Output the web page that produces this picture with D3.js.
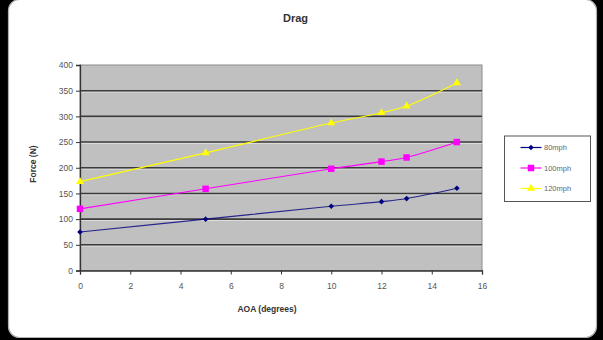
<!DOCTYPE html>
<html><head><meta charset="utf-8">
<script src="https://cdn.jsdelivr.net/npm/d3@7"></script>
<style>
html,body{margin:0;padding:0;background:#000;}
svg{display:block;}
text{font-family:Arial,"Liberation Sans",sans-serif;}
</style></head>
<body>
<svg id="c" width="603" height="340"></svg>
<script>
const aoa = [0, 5, 10, 12, 13, 15];
const s80 = [75, 100, 125, 134, 140, 160];
const s100 = [120, 159, 198, 212, 220, 250];
const s120 = [173, 229, 287, 307, 320, 365];
const seriesNames = ["80mph", "100mph", "120mph"];
const xTicks = [0, 2, 4, 6, 8, 10, 12, 14, 16];
const yTicks = [0, 50, 100, 150, 200, 250, 300, 350, 400];

const series = [
  {name: seriesNames[0], values: s80, color: "#000080", marker: "diamond"},
  {name: seriesNames[1], values: s100, color: "#ff00ff", marker: "square"},
  {name: seriesNames[2], values: s120, color: "#ffff00", marker: "triangle"}
];

const svg = d3.select("#c");
svg.append("rect").attr("x",0).attr("y",0).attr("width",603).attr("height",340).attr("fill","#000");
svg.append("rect").attr("x",8.5).attr("y",-0.5).attr("width",588).attr("height",338)
  .attr("rx",11).attr("fill","#fff").attr("stroke","#b0b0b0").attr("stroke-width",1.2);

const L = 80, R = 482, T = 65, B = 270.5;
const x = d3.scaleLinear().domain([0,16]).range([L,R]);
const y = d3.scaleLinear().domain([0,400]).range([B,T]);

// plot area
svg.append("rect").attr("x",L).attr("y",T).attr("width",R-L).attr("height",B-T)
  .attr("fill","#c0c0c0").attr("stroke","#8a8a8a").attr("stroke-width",1);

// gridlines
const g = svg.append("g");
yTicks.filter(v=>v>0 && v<400).forEach(v=>{
  g.append("line").attr("x1",L).attr("x2",R).attr("y1",y(v)+1.3).attr("y2",y(v)+1.3)
    .attr("stroke","#e0e0e0").attr("stroke-width",1);
  g.append("line").attr("x1",L).attr("x2",R).attr("y1",y(v)).attr("y2",y(v))
    .attr("stroke","#3c3c3c").attr("stroke-width",1.6);
});

// axes
const yAxis = d3.axisLeft(y).tickValues(yTicks).tickSize(4).tickPadding(3);
const ya = svg.append("g").attr("transform",`translate(${L},0)`).call(yAxis);
const xAxis = d3.axisBottom(x).tickValues(xTicks).tickSize(4).tickPadding(8);
const xa = svg.append("g").attr("transform",`translate(0,${B})`).call(xAxis);
[ya,xa].forEach(a=>{
  a.select(".domain").attr("stroke","#333").attr("stroke-width",1.3);
  a.selectAll(".tick line").attr("stroke","#333");
  a.selectAll(".tick text").attr("fill","#555").attr("font-size",8.5)
    .attr("font-family","Arial, 'Liberation Sans', sans-serif");
});

// lines
const line = d3.line().x((d,i)=>x(aoa[i])).y(d=>y(d)).curve(d3.curveCatmullRom.alpha(0.5));
const sym = {
  diamond: d3.symbol().type(d3.symbolDiamond2).size(20),
  square: d3.symbol().type(d3.symbolSquare).size(42),
  triangle: d3.symbol().type(d3.symbolTriangle).size(28)
};
series.forEach(s=>{
  svg.append("path").attr("d",line(s.values)).attr("fill","none")
    .attr("stroke",s.color).attr("stroke-width",1.1).attr("opacity",s.marker==="diamond"?0.8:1);
  svg.selectAll(null).data(s.values).enter().append("path")
    .attr("d",sym[s.marker]()).attr("transform",(d,i)=>`translate(${x(aoa[i])},${y(d)})`)
    .attr("fill",s.color);
});

// title
svg.append("text").attr("x",295.5).attr("y",22).attr("text-anchor","middle")
  .attr("font-size",11).attr("font-weight","bold").attr("fill","#333").text("Drag");
svg.append("text").attr("x",267).attr("y",312).attr("text-anchor","middle")
  .attr("font-size",8.5).attr("font-weight","bold").attr("fill","#333").text("AOA (degrees)");
svg.append("text").attr("transform","translate(36,164) rotate(-90)").attr("text-anchor","middle")
  .attr("font-size",8.5).attr("font-weight","bold").attr("fill","#333").text("Force (N)");

// legend
const lg = svg.append("g");
lg.append("rect").attr("x",504.5).attr("y",136).attr("width",86).attr("height",65.5)
  .attr("fill","#fff").attr("stroke","#555").attr("stroke-width",1);
series.forEach((s,i)=>{
  const yy = 147.5 + i*20.5;
  lg.append("line").attr("x1",520.5).attr("x2",541.5).attr("y1",yy).attr("y2",yy)
    .attr("stroke",s.color).attr("stroke-width",1.2);
  lg.append("path").attr("d",sym[s.marker]()).attr("transform",`translate(531,${yy})`).attr("fill",s.color);
  lg.append("text").attr("x",544).attr("y",yy+2.8).attr("font-size",7.5).attr("fill","#666").text(s.name);
});
</script>
</body></html>
